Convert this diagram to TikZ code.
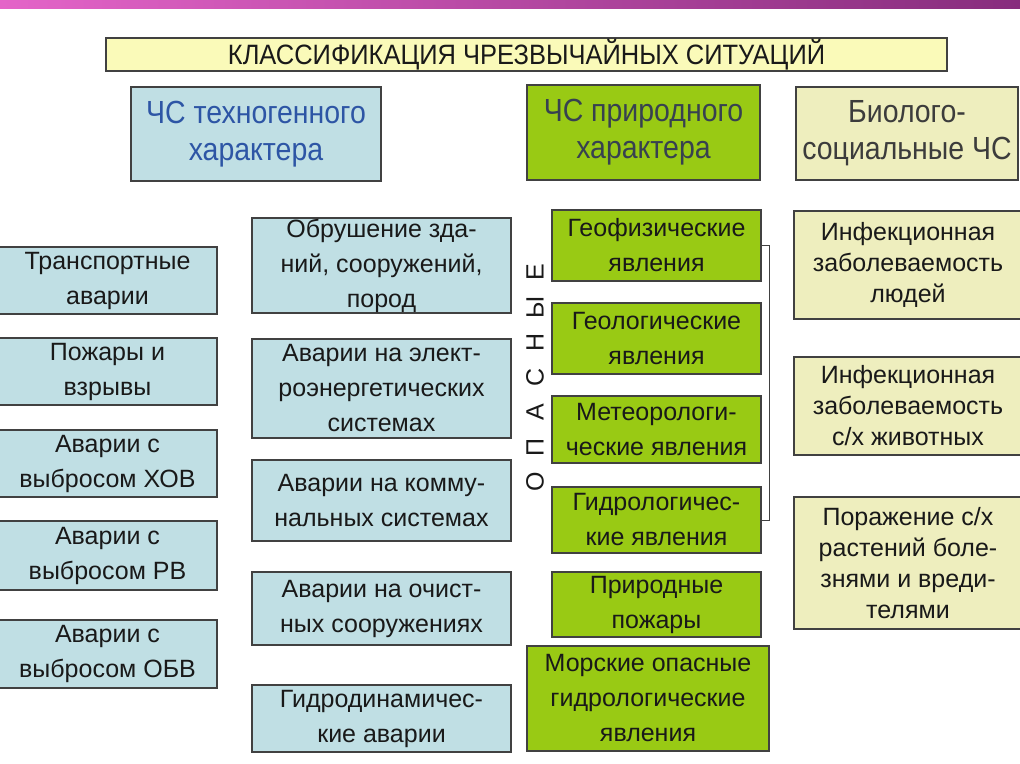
\documentclass[tikz,border=0pt]{standalone}
\usepackage{fontspec}
\setmainfont{Liberation Sans}
\newfontfamily\narrowfont[FakeStretch=0.89]{Liberation Sans}
\newfontfamily\titlefont[FakeStretch=0.91]{Liberation Sans}
\usepackage{tikz}

\definecolor{techfill}{RGB}{192,223,228}
\definecolor{natfill}{RGB}{153,202,20}
\definecolor{biofill}{RGB}{238,238,190}
\definecolor{titlefill}{RGB}{250,250,185}
\definecolor{boxline}{RGB}{65,65,65}
\definecolor{txt}{RGB}{25,25,25}
\definecolor{techtxt}{RGB}{45,85,165}
\definecolor{nattxt}{RGB}{55,65,80}
\definecolor{biotxt}{RGB}{60,60,60}
\definecolor{barleft}{RGB}{228,100,200}
\definecolor{barright}{RGB}{135,45,125}

\begin{document}
\begin{tikzpicture}[x=1pt, y=-1pt,
    box/.style={draw=boxline, line width=1.2pt, inner sep=0pt, align=center, text=txt,
        font=\fontsize{25}{35}\selectfont},
    sz/.style 2 args={minimum width=#1, minimum height=#2},
    techbox/.style={box, fill=techfill},
    natbox/.style={box, fill=natfill},
    biobox/.style={box, fill=biofill, font=\fontsize{25}{31}\selectfont},
    headbox/.style={box, font=\narrowfont\fontsize{32}{37}\selectfont}]
    \useasboundingbox (0, 0) rectangle (1020, 763);
    \fill[white] (0, 0) rectangle (1020, 763);
    \shade[left color=barleft, right color=barright] (0, 0) rectangle (1020, 8);

    % title and the three kinds
    \node (title) at (526.5, 54.5) [box, fill=titlefill, sz={841pt}{33pt},
        font=\titlefont\fontsize{28}{32}\selectfont] {КЛАССИФИКАЦИЯ ЧРЕЗВЫЧАЙНЫХ СИТУАЦИЙ};
    \node (tech) at (256, 134) [headbox, fill=techfill, text=techtxt, sz={250pt}{94pt}] {ЧС техногенного\\характера};
    \node (nat) at (643.5, 132.5) [headbox, fill=natfill, text=nattxt, sz={233pt}{95pt}] {ЧС природного\\характера};
    \node (bio) at (907, 133.5) [headbox, fill=biofill, text=biotxt, sz={222pt}{93pt}] {Биолого-\\социальные ЧС};

    % technogenic, left column
    \node (trans) at (107.5, 280.5) [techbox, sz={219pt}{67pt}] {Транспортные\\аварии};
    \node (fire) at (107.5, 371.5) [techbox, sz={219pt}{67pt}] {Пожары и\\взрывы};
    \node (hov) at (107.5, 463.5) [techbox, sz={219pt}{67pt}] {Аварии с\\выбросом ХОВ};
    \node (rv) at (107.5, 555.5) [techbox, sz={219pt}{69pt}] {Аварии с\\выбросом РВ};
    \node (obv) at (107.5, 654) [techbox, sz={219pt}{68pt}] {Аварии с\\выбросом ОБВ};

    % technogenic, middle column
    \node (collapse) at (381.5, 265.5) [techbox, sz={259pt}{95pt}] {Обрушение зда-\\ний, сооружений,\\пород};
    \node (power) at (381.5, 388.5) [techbox, sz={259pt}{99pt}] {Аварии на элект-\\роэнергетических\\системах};
    \node (util) at (381.5, 500.5) [techbox, sz={259pt}{81pt}] {Аварии на комму-\\нальных системах};
    \node (clean) at (381.5, 608.5) [techbox, sz={259pt}{73pt}] {Аварии на очист-\\ных сооружениях};
    \node (hydrodyn) at (381.5, 718.5) [techbox, sz={259pt}{67pt}] {Гидродинамичес-\\кие аварии};

    % natural
    \node (opas) at (535, 377) [rotate=90, text=txt, font=\fontsize{25}{28}\selectfont]
        {\makebox[35pt]{О}\makebox[35pt]{П}\makebox[35pt]{А}\makebox[35pt]{С}\makebox[35pt]{Н}\makebox[35pt]{Ы}\makebox[35pt]{Е}};
    \node (geophys) at (656.5, 245.5) [natbox, sz={209pt}{71pt}] {Геофизические\\явления};
    \node (geol) at (656.5, 338.5) [natbox, sz={209pt}{71pt}] {Геологические\\явления};
    \node (meteo) at (656.5, 429.5) [natbox, sz={209pt}{67pt}] {Метеорологи-\\ческие явления};
    \node (hydrol) at (656.5, 520) [natbox, sz={209pt}{66pt}] {Гидрологичес-\\кие явления};
    \node (wildfire) at (656.5, 604.5) [natbox, sz={209pt}{65pt}] {Природные\\пожары};
    \node (sea) at (648, 698.5) [natbox, sz={242pt}{105pt}] {Морские опасные\\гидрологические\\явления};
    \draw[boxline, line width=0.9pt] (geophys.east) -- ++(8, 0) |- (hydrol.east);

    % biological and social
    \node (people) at (908, 265) [biobox, sz={228pt}{108pt}] {Инфекционная\\заболеваемость\\людей};
    \node (animals) at (908, 406) [biobox, sz={228pt}{98pt}] {Инфекционная\\заболеваемость\\с/х животных};
    \node (plants) at (908, 563) [biobox, sz={228pt}{132pt}] {Поражение с/х\\растений боле-\\знями и вреди-\\телями};
\end{tikzpicture}
\end{document}
